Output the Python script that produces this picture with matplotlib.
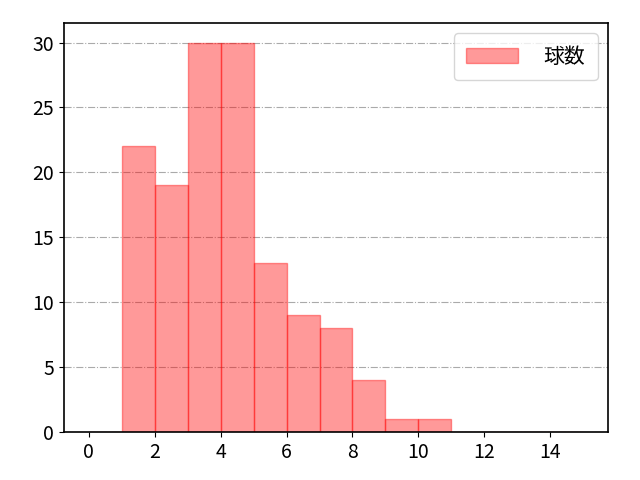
import matplotlib
matplotlib.use("Agg")
import matplotlib.pyplot as plt
import numpy as np

plt.rcParams['font.family'] = ['Noto Sans CJK JP', 'DejaVu Sans']
plt.rcParams['font.size'] = 14

bin_edges = [0, 1, 2, 3, 4, 5, 6, 7, 8, 9, 10, 11, 12, 13, 14, 15]
counts = [0, 22, 19, 30, 30, 13, 9, 8, 4, 1, 1, 0, 0, 0, 0]
label = "球数"

fig, ax = plt.subplots(figsize=(6.4, 4.8), dpi=100)
ax.hist(bin_edges[:-1], bins=bin_edges, weights=counts, color='red', alpha=0.4,
        edgecolor='red', linewidth=1, label=label)
ax.set_xlim(-0.75, 15.75)
ax.set_ylim(0, 31.5)
ax.set_xticks([0, 2, 4, 6, 8, 10, 12, 14])
ax.grid(axis='y', linestyle='-.', color='#aaaaaa', linewidth=0.8)
ax.set_axisbelow(True)
for s in ax.spines.values():
    s.set_linewidth(1.2)
ax.tick_params(labelsize=14)
ax.legend(loc='upper right', handlelength=2.5, handletextpad=1.2, borderpad=0.6, fontsize=15)
fig.subplots_adjust(left=0.1, right=0.95, top=0.952, bottom=0.1)
fig.savefig("out.png")
